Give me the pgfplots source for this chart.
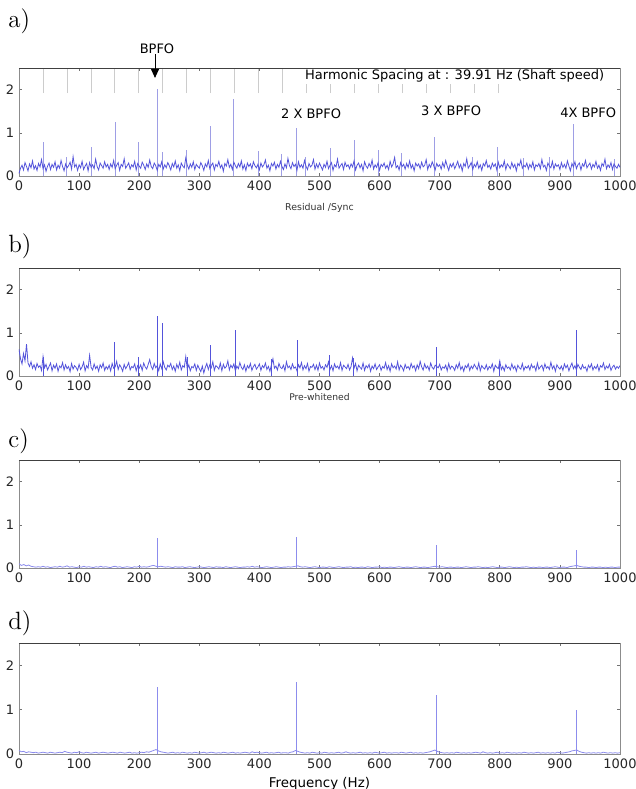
\documentclass[border=0pt]{standalone}
\usepackage{fontspec}
\usepackage{pgfplots}
\pgfplotsset{compat=1.18}
\usepackage{pgfplotstable}
\usetikzlibrary{arrows.meta}
\newfontfamily\dv{DejaVu Sans}
\definecolor{sig}{rgb}{0.33,0.33,0.86}
\definecolor{sigl}{rgb}{0.55,0.55,0.93}
\definecolor{spk}{rgb}{0.62,0.62,0.90}
\definecolor{hm}{rgb}{0.80,0.80,0.80}

% panel a noise, 2.5 Hz step, 0..1000 Hz
\pgfplotstableread[header=false,row sep=\\]{
0.06\\0.18\\0.25\\0.14\\0.31\\0.22\\0.12\\0.28\\0.19\\0.35\\0.16\\0.24\\0.13\\0.29\\0.21\\0.38\\0.17\\0.26\\0.11\\0.23\\
0.30\\0.15\\0.27\\0.20\\0.33\\0.14\\0.25\\0.18\\0.36\\0.22\\0.12\\0.28\\0.19\\0.24\\0.32\\0.16\\0.45\\0.21\\0.27\\0.13\\
0.26\\0.19\\0.34\\0.15\\0.23\\0.29\\0.12\\0.31\\0.20\\0.26\\0.17\\0.39\\0.22\\0.14\\0.30\\0.24\\0.18\\0.33\\0.21\\0.27\\
0.15\\0.28\\0.20\\0.36\\0.17\\0.25\\0.31\\0.13\\0.27\\0.22\\0.40\\0.18\\0.24\\0.30\\0.16\\0.26\\0.21\\0.34\\0.14\\0.29\\
0.23\\0.18\\0.32\\0.25\\0.15\\0.28\\0.20\\0.37\\0.22\\0.17\\0.30\\0.24\\0.13\\0.27\\0.21\\0.33\\0.16\\0.26\\0.19\\0.31\\
0.24\\0.14\\0.29\\0.21\\0.35\\0.18\\0.26\\0.12\\0.30\\0.23\\0.19\\0.42\\0.25\\0.16\\0.28\\0.20\\0.33\\0.15\\0.27\\0.22\\
0.18\\0.31\\0.24\\0.13\\0.28\\0.21\\0.36\\0.17\\0.25\\0.30\\0.14\\0.27\\0.22\\0.34\\0.19\\0.26\\0.11\\0.29\\0.23\\0.38\\
0.20\\0.27\\0.15\\0.32\\0.24\\0.18\\0.29\\0.21\\0.35\\0.16\\0.26\\0.13\\0.30\\0.22\\0.28\\0.17\\0.33\\0.24\\0.19\\0.27\\
0.14\\0.30\\0.21\\0.26\\0.37\\0.18\\0.25\\0.12\\0.29\\0.23\\0.32\\0.16\\0.27\\0.20\\0.34\\0.22\\0.15\\0.28\\0.19\\0.41\\
0.24\\0.17\\0.31\\0.22\\0.27\\0.13\\0.33\\0.20\\0.26\\0.18\\0.36\\0.23\\0.15\\0.29\\0.21\\0.25\\0.38\\0.16\\0.28\\0.19\\
0.30\\0.22\\0.14\\0.27\\0.20\\0.34\\0.17\\0.25\\0.31\\0.13\\0.26\\0.21\\0.39\\0.18\\0.24\\0.29\\0.15\\0.32\\0.22\\0.26\\
0.17\\0.28\\0.21\\0.35\\0.14\\0.25\\0.30\\0.19\\0.27\\0.12\\0.33\\0.23\\0.18\\0.29\\0.21\\0.37\\0.16\\0.26\\0.20\\0.31\\
0.13\\0.27\\0.22\\0.30\\0.18\\0.25\\0.15\\0.34\\0.21\\0.28\\0.43\\0.19\\0.24\\0.14\\0.31\\0.22\\0.27\\0.16\\0.29\\0.20\\
0.35\\0.18\\0.26\\0.12\\0.30\\0.23\\0.28\\0.17\\0.32\\0.21\\0.25\\0.38\\0.15\\0.27\\0.20\\0.33\\0.24\\0.14\\0.29\\0.22\\
0.26\\0.16\\0.31\\0.20\\0.36\\0.23\\0.13\\0.28\\0.21\\0.30\\0.17\\0.25\\0.34\\0.19\\0.27\\0.12\\0.29\\0.22\\0.40\\0.18\\
0.24\\0.31\\0.15\\0.27\\0.21\\0.33\\0.18\\0.26\\0.13\\0.29\\0.23\\0.36\\0.20\\0.25\\0.16\\0.30\\0.22\\0.28\\0.14\\0.32\\
0.19\\0.26\\0.21\\0.35\\0.15\\0.28\\0.23\\0.17\\0.31\\0.20\\0.27\\0.12\\0.29\\0.24\\0.37\\0.18\\0.25\\0.21\\0.30\\0.16\\
0.27\\0.20\\0.33\\0.14\\0.26\\0.22\\0.29\\0.17\\0.38\\0.21\\0.25\\0.13\\0.30\\0.23\\0.19\\0.34\\0.16\\0.28\\0.22\\0.26\\
0.15\\0.31\\0.20\\0.27\\0.18\\0.35\\0.23\\0.12\\0.29\\0.21\\0.33\\0.17\\0.26\\0.30\\0.14\\0.28\\0.22\\0.36\\0.19\\0.25\\
0.30\\0.16\\0.27\\0.21\\0.34\\0.18\\0.25\\0.13\\0.29\\0.23\\0.39\\0.17\\0.26\\0.20\\0.31\\0.15\\0.28\\0.22\\0.18\\0.27\\
0.20\\
}\ta

% panel b noise, 2.5 Hz step
\pgfplotstableread[header=false,row sep=\\]{
0.62\\0.40\\0.28\\0.52\\0.35\\0.74\\0.30\\0.22\\0.33\\0.18\\0.26\\0.15\\0.29\\0.20\\0.24\\0.13\\0.45\\0.19\\0.27\\0.14\\
0.22\\0.30\\0.12\\0.25\\0.18\\0.28\\0.11\\0.23\\0.19\\0.31\\0.14\\0.26\\0.17\\0.22\\0.10\\0.29\\0.16\\0.24\\0.20\\0.13\\
0.27\\0.15\\0.21\\0.32\\0.12\\0.24\\0.18\\0.48\\0.20\\0.14\\0.28\\0.17\\0.23\\0.11\\0.26\\0.19\\0.30\\0.13\\0.22\\0.16\\
0.25\\0.12\\0.29\\0.18\\0.21\\0.34\\0.15\\0.26\\0.20\\0.11\\0.27\\0.17\\0.23\\0.31\\0.14\\0.22\\0.19\\0.28\\0.12\\0.24\\
0.18\\0.26\\0.13\\0.30\\0.21\\0.16\\0.27\\0.38\\0.22\\0.15\\0.29\\0.19\\0.24\\0.12\\0.28\\0.17\\0.33\\0.20\\0.14\\0.25\\
0.21\\0.29\\0.15\\0.23\\0.11\\0.27\\0.18\\0.32\\0.14\\0.24\\0.20\\0.45\\0.16\\0.26\\0.12\\0.22\\0.19\\0.28\\0.13\\0.25\\
0.17\\0.10\\0.23\\0.07\\0.20\\0.29\\0.15\\0.26\\0.19\\0.33\\0.13\\0.24\\0.21\\0.16\\0.30\\0.12\\0.27\\0.18\\0.22\\0.35\\
0.14\\0.25\\0.19\\0.28\\0.12\\0.23\\0.17\\0.31\\0.20\\0.15\\0.26\\0.11\\0.24\\0.18\\0.29\\0.13\\0.22\\0.27\\0.16\\0.21\\
0.28\\0.13\\0.24\\0.19\\0.30\\0.15\\0.22\\0.11\\0.26\\0.40\\0.18\\0.23\\0.14\\0.29\\0.20\\0.17\\0.25\\0.12\\0.33\\0.19\\
0.23\\0.15\\0.28\\0.18\\0.21\\0.12\\0.26\\0.19\\0.31\\0.14\\0.24\\0.17\\0.29\\0.11\\0.22\\0.20\\0.27\\0.15\\0.25\\0.13\\
0.30\\0.18\\0.22\\0.14\\0.26\\0.20\\0.33\\0.15\\0.24\\0.12\\0.28\\0.19\\0.23\\0.16\\0.31\\0.13\\0.25\\0.21\\0.17\\0.27\\
0.14\\0.22\\0.42\\0.18\\0.29\\0.12\\0.25\\0.20\\0.16\\0.30\\0.13\\0.24\\0.19\\0.27\\0.11\\0.23\\0.17\\0.28\\0.15\\0.21\\
0.26\\0.13\\0.22\\0.18\\0.31\\0.15\\0.24\\0.11\\0.28\\0.19\\0.23\\0.16\\0.33\\0.14\\0.25\\0.20\\0.12\\0.27\\0.18\\0.22\\
0.15\\0.29\\0.19\\0.24\\0.12\\0.26\\0.17\\0.34\\0.21\\0.14\\0.28\\0.18\\0.23\\0.13\\0.30\\0.20\\0.16\\0.25\\0.22\\0.19\\
0.27\\0.14\\0.21\\0.18\\0.25\\0.12\\0.29\\0.16\\0.23\\0.20\\0.13\\0.26\\0.18\\0.31\\0.15\\0.22\\0.11\\0.24\\0.19\\0.28\\
0.13\\0.23\\0.17\\0.27\\0.21\\0.15\\0.30\\0.12\\0.24\\0.19\\0.16\\0.26\\0.14\\0.22\\0.18\\0.28\\0.11\\0.25\\0.20\\0.17\\
0.35\\0.15\\0.22\\0.12\\0.26\\0.18\\0.21\\0.14\\0.28\\0.17\\0.23\\0.11\\0.25\\0.19\\0.16\\0.29\\0.13\\0.22\\0.18\\0.24\\
0.14\\0.27\\0.19\\0.23\\0.12\\0.30\\0.16\\0.21\\0.25\\0.13\\0.28\\0.18\\0.22\\0.15\\0.32\\0.17\\0.24\\0.11\\0.26\\0.20\\
0.16\\0.23\\0.13\\0.28\\0.19\\0.25\\0.12\\0.22\\0.30\\0.17\\0.24\\0.14\\0.27\\0.20\\0.15\\0.26\\0.18\\0.21\\0.11\\0.25\\
0.19\\0.28\\0.14\\0.22\\0.17\\0.26\\0.12\\0.24\\0.20\\0.30\\0.15\\0.23\\0.18\\0.27\\0.13\\0.21\\0.25\\0.16\\0.22\\0.18\\
0.24\\
}\tb

% panel c noise, 4 Hz step
\pgfplotstableread[header=false,row sep=\\]{
0.10\\0.06\\0.08\\0.05\\0.07\\0.04\\0.03\\0.02\\0.03\\0.02\\0.04\\0.02\\0.03\\0.01\\0.02\\0.03\\0.02\\0.04\\0.02\\0.03\\
0.05\\0.02\\0.03\\0.02\\0.01\\0.03\\0.02\\0.04\\0.02\\0.03\\0.02\\0.01\\0.03\\0.02\\0.04\\0.02\\0.03\\0.02\\0.01\\0.03\\
0.04\\0.02\\0.03\\0.01\\0.02\\0.03\\0.02\\0.01\\0.03\\0.02\\0.04\\0.02\\0.03\\0.02\\0.03\\0.05\\0.06\\0.04\\0.03\\0.04\\
0.03\\0.02\\0.03\\0.02\\0.01\\0.03\\0.02\\0.02\\0.03\\0.01\\0.02\\0.03\\0.02\\0.01\\0.02\\0.03\\0.02\\0.01\\0.02\\0.03\\
0.02\\0.01\\0.03\\0.02\\0.02\\0.01\\0.03\\0.02\\0.01\\0.02\\0.03\\0.02\\0.01\\0.02\\0.02\\0.03\\0.02\\0.04\\0.02\\0.03\\
0.02\\0.01\\0.02\\0.03\\0.02\\0.01\\0.02\\0.03\\0.02\\0.01\\0.02\\0.02\\0.03\\0.02\\0.03\\0.04\\0.05\\0.03\\0.02\\0.03\\
0.02\\0.01\\0.02\\0.03\\0.02\\0.01\\0.02\\0.02\\0.01\\0.03\\0.02\\0.01\\0.02\\0.03\\0.02\\0.01\\0.02\\0.02\\0.03\\0.01\\
0.02\\0.01\\0.02\\0.02\\0.01\\0.03\\0.02\\0.01\\0.02\\0.02\\0.03\\0.01\\0.02\\0.01\\0.02\\0.02\\0.01\\0.02\\0.03\\0.02\\
0.01\\0.02\\0.02\\0.01\\0.02\\0.03\\0.02\\0.01\\0.02\\0.02\\0.01\\0.02\\0.03\\0.04\\0.03\\0.02\\0.03\\0.02\\0.01\\0.02\\
0.02\\0.01\\0.02\\0.02\\0.01\\0.02\\0.03\\0.02\\0.01\\0.02\\0.02\\0.03\\0.02\\0.01\\0.02\\0.01\\0.02\\0.03\\0.02\\0.01\\
0.02\\0.02\\0.01\\0.02\\0.03\\0.02\\0.01\\0.02\\0.01\\0.02\\0.02\\0.03\\0.02\\0.01\\0.02\\0.01\\0.02\\0.02\\0.01\\0.02\\
0.02\\0.01\\0.02\\0.03\\0.02\\0.01\\0.02\\0.02\\0.01\\0.03\\0.04\\0.05\\0.06\\0.04\\0.03\\0.02\\0.02\\0.01\\0.02\\0.02\\
0.01\\0.02\\0.02\\0.01\\0.02\\0.01\\0.02\\0.02\\0.01\\0.02\\
0.02\\
}\tc

% panel d noise, 4 Hz step
\pgfplotstableread[header=false,row sep=\\]{
0.08\\0.05\\0.06\\0.03\\0.05\\0.04\\0.03\\0.04\\0.02\\0.03\\0.04\\0.03\\0.02\\0.04\\0.03\\0.02\\0.03\\0.04\\0.03\\0.06\\
0.04\\0.03\\0.02\\0.04\\0.03\\0.05\\0.03\\0.02\\0.04\\0.03\\0.02\\0.03\\0.04\\0.02\\0.03\\0.04\\0.03\\0.02\\0.03\\0.04\\
0.03\\0.02\\0.04\\0.03\\0.02\\0.03\\0.04\\0.02\\0.03\\0.02\\0.03\\0.04\\0.03\\0.05\\0.04\\0.06\\0.08\\0.10\\0.07\\0.05\\
0.04\\0.03\\0.02\\0.03\\0.04\\0.02\\0.03\\0.02\\0.04\\0.03\\0.02\\0.03\\0.02\\0.04\\0.03\\0.02\\0.03\\0.04\\0.02\\0.03\\
0.04\\0.03\\0.02\\0.03\\0.02\\0.04\\0.03\\0.02\\0.03\\0.04\\0.02\\0.03\\0.02\\0.03\\0.04\\0.03\\0.02\\0.05\\0.03\\0.04\\
0.03\\0.02\\0.03\\0.04\\0.02\\0.03\\0.02\\0.03\\0.04\\0.02\\0.03\\0.03\\0.02\\0.04\\0.05\\0.08\\0.06\\0.04\\0.03\\0.02\\
0.03\\0.02\\0.04\\0.03\\0.02\\0.03\\0.02\\0.04\\0.03\\0.02\\0.03\\0.02\\0.03\\0.04\\0.02\\0.03\\0.05\\0.03\\0.02\\0.03\\
0.02\\0.03\\0.04\\0.02\\0.03\\0.02\\0.03\\0.02\\0.04\\0.03\\0.02\\0.03\\0.04\\0.02\\0.03\\0.02\\0.03\\0.03\\0.02\\0.04\\
0.03\\0.02\\0.03\\0.04\\0.02\\0.03\\0.02\\0.03\\0.02\\0.03\\0.04\\0.05\\0.07\\0.09\\0.06\\0.04\\0.03\\0.02\\0.03\\0.02\\
0.03\\0.02\\0.04\\0.03\\0.02\\0.03\\0.02\\0.03\\0.02\\0.03\\0.04\\0.03\\0.02\\0.05\\0.03\\0.02\\0.03\\0.02\\0.03\\0.04\\
0.02\\0.03\\0.02\\0.04\\0.03\\0.02\\0.03\\0.02\\0.03\\0.02\\0.04\\0.03\\0.02\\0.03\\0.02\\0.03\\0.04\\0.02\\0.03\\0.02\\
0.03\\0.02\\0.03\\0.02\\0.04\\0.03\\0.02\\0.03\\0.04\\0.05\\0.07\\0.08\\0.09\\0.06\\0.04\\0.03\\0.02\\0.03\\0.02\\0.03\\
0.02\\0.03\\0.02\\0.04\\0.03\\0.02\\0.03\\0.02\\0.03\\0.02\\
0.03\\
}\td

\tikzset{tfont/.style={font=\dv\fontsize{6.5}{7}\selectfont}}
\pgfplotsset{
  spec/.style={
    scale only axis, width=300.5pt, height=54pt,
    anchor=south west,
    xmin=0, xmax=1000, ymin=0, ymax=2.5,
    xtick={0,100,...,1000}, ytick={0,1,2},
    tick align=inside, major tick length=1.5pt,
    axis line style={black!45, line width=0.4pt},
    tick style={black!55, line width=0.3pt},
    ticklabel style={font=\dv\fontsize{6.5}{7}\selectfont, text=black!85, inner sep=0.5pt},
    xticklabel style={yshift=-1.67pt},
    yticklabel style={xshift=-1.67pt},
    /pgf/number format/assume math mode=true,
    /pgf/number format/set thousands separator={},
  },
}

\begin{document}
\begin{tikzpicture}
\useasboundingbox (0,0) rectangle (318pt,-394.5pt);

% ---------- a ----------
\begin{axis}[spec, at={(9.5pt,-88pt)}, clip=false]
\addplot[hm, line width=0.45pt, unbounded coords=jump] coordinates {
(39.91,1.92)(39.91,2.5)(39.91,nan)
(79.82,1.92)(79.82,2.5)(79.82,nan)
(119.73,1.92)(119.73,2.5)(119.73,nan)
(159.64,1.92)(159.64,2.5)(159.64,nan)
(199.55,1.92)(199.55,2.5)(199.55,nan)
(239.46,1.92)(239.46,2.5)(239.46,nan)
(279.37,1.92)(279.37,2.5)(279.37,nan)
(319.28,1.92)(319.28,2.5)(319.28,nan)
(359.19,1.92)(359.19,2.5)(359.19,nan)
(399.10,1.92)(399.10,2.5)(399.10,nan)
(439.01,1.92)(439.01,2.5)(439.01,nan)
(478.92,1.92)(478.92,2.5)(478.92,nan)
(518.83,1.92)(518.83,2.5)(518.83,nan)
(558.74,1.92)(558.74,2.5)(558.74,nan)
(598.65,1.92)(598.65,2.5)(598.65,nan)
(638.56,1.92)(638.56,2.5)(638.56,nan)
(678.47,1.92)(678.47,2.5)(678.47,nan)
(718.38,1.92)(718.38,2.5)(718.38,nan)
(758.29,1.92)(758.29,2.5)(758.29,nan)
(798.20,1.92)(798.20,2.5)
};
\addplot[spk, line width=0.45pt, ycomb] coordinates {
(40,0.79)(79.5,0.45)(120,0.68)(160,1.25)(199,0.79)(231,2.01)(238,0.55)
(278,0.60)(318,1.15)(357,1.79)(398,0.57)(437,0.50)(462,1.10)(476,0.45)
(518,0.65)(558,0.83)(598,0.60)(637,0.53)(692,0.91)(755,0.45)(796,0.66)
(839,0.42)(883,0.45)(922,1.20)(991,0.40)};
\addplot[sig, line width=0.4pt] table[x expr=\coordindex*2.5, y index=0] {\ta};
\node[tfont, fill=white, inner sep=0.8pt] at (axis cs:725,2.31) {Harmonic Spacing at : 39.91 Hz (Shaft speed)};
\draw[black!75, line width=0.4pt] (rel axis cs:0,1) -- (rel axis cs:1,1);
\node[tfont] at (axis cs:229.6,2.94) {BPFO};
\draw[line width=0.45pt, -{Triangle[length=4.5pt,width=4pt]}] (axis cs:226.3,2.82) -- (axis cs:226.3,2.27);
\node[tfont] at (axis cs:486,1.45) {2 X BPFO};
\node[tfont] at (axis cs:719,1.52) {3 X BPFO};
\node[tfont] at (axis cs:947,1.47) {4X BPFO};
\end{axis}

% ---------- b ----------
\begin{axis}[spec, at={(9.5pt,-188pt)}]
\addplot[sig, line width=0.45pt, ycomb] coordinates {
(40,0.45)(159,0.79)(199,0.45)(231,1.39)(239,1.22)(281,0.45)(319,0.72)
(359.5,1.06)(420,0.40)(464,0.83)(517,0.48)(556,0.42)(695,0.68)(800,0.35)(928,1.06)};
\addplot[sig, line width=0.4pt] table[x expr=\coordindex*2.5, y index=0] {\tb};
\draw[black!75, line width=0.4pt] (rel axis cs:0,1) -- (rel axis cs:1,1);
\end{axis}

% ---------- c ----------
\begin{axis}[spec, at={(9.5pt,-284pt)}]
\addplot[sigl, line width=0.45pt, ycomb] coordinates {
(231,0.69)(462,0.71)(695,0.54)(927,0.41)};
\addplot[sigl, line width=0.4pt] table[x expr=\coordindex*4, y index=0] {\tc};
\draw[black!75, line width=0.4pt] (rel axis cs:0,1) -- (rel axis cs:1,1);
\end{axis}

% ---------- d ----------
\begin{axis}[spec, height=55.5pt, at={(9.5pt,-377pt)}]
\addplot[sigl, line width=0.45pt, ycomb] coordinates {
(231,1.50)(462,1.62)(695,1.32)(927,1.00)};
\addplot[sigl, line width=0.4pt] table[x expr=\coordindex*4, y index=0] {\td};
\draw[black!75, line width=0.4pt] (rel axis cs:0,1) -- (rel axis cs:1,1);
\end{axis}

% panel letters
\node[anchor=west, inner sep=0pt, font=\fontsize{12.5}{13}\selectfont] at (4pt,-10.5pt) {a)};
\node[anchor=west, inner sep=0pt, font=\fontsize{12.5}{13}\selectfont] at (4pt,-123pt) {b)};
\node[anchor=west, inner sep=0pt, font=\fontsize{12.5}{13}\selectfont] at (4pt,-220.5pt) {c)};
\node[anchor=west, inner sep=0pt, font=\fontsize{12.5}{13}\selectfont] at (4pt,-311.5pt) {d)};

% axis captions
\node[anchor=north, inner sep=0pt, font=\dv\fontsize{4.7}{5}\selectfont, text=black!80] at (159.75pt,-101.3pt) {Residual /Sync};
\node[anchor=north, inner sep=0pt, font=\dv\fontsize{4.6}{5}\selectfont, text=black!80] at (159.75pt,-196.7pt) {Pre-whitened};
\node[anchor=north, inner sep=0pt, font=\dv\fontsize{6.7}{7}\selectfont] at (159.75pt,-388.3pt) {Frequency (Hz)};
\end{tikzpicture}
\end{document}
